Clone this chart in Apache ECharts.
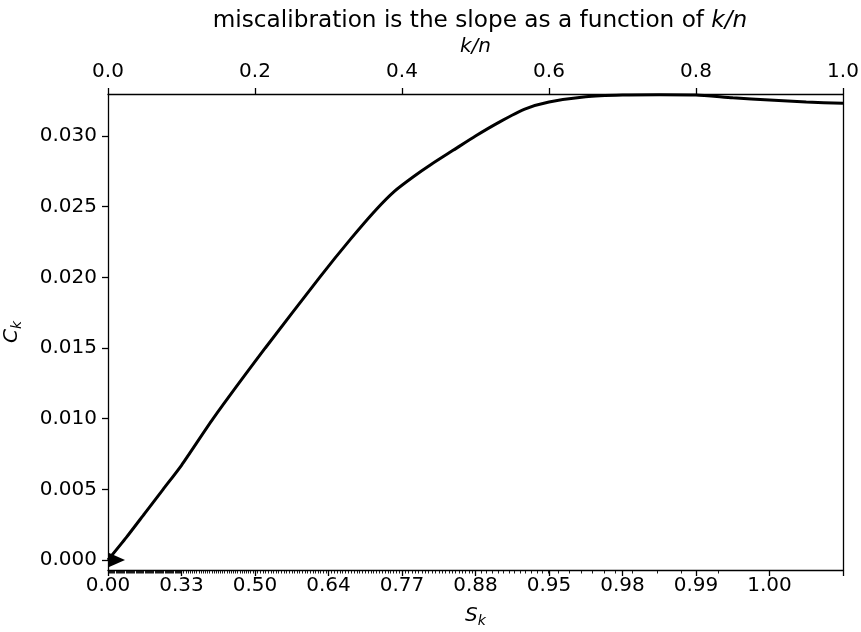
<!DOCTYPE html>
<html>
<head>
<meta charset="utf-8">
<script src="https://cdn.jsdelivr.net/npm/echarts@6/dist/echarts.min.js"></script>
<style>
html,body{margin:0;padding:0;background:#fff;}
#chart{width:861px;height:632px;}
</style>
</head>
<body>
<div id="chart"></div>
<script>
// ---- data ----
const knValues = [0, 0.025, 0.05, 0.075, 0.1, 0.143, 0.214, 0.288, 0.33, 0.365, 0.39, 0.415, 0.44, 0.47, 0.50, 0.533, 0.567, 0.6, 0.65, 0.7, 0.75, 0.8, 0.85, 0.9, 0.95, 1.0];
const ckValues = [0, 0.0016, 0.0033, 0.0050, 0.0067, 0.0100, 0.0150, 0.0200, 0.0227, 0.0248, 0.0261, 0.0271, 0.0280, 0.0290, 0.0300, 0.0310, 0.0319, 0.0324, 0.03278, 0.0329, 0.03292, 0.0329, 0.0327, 0.03255, 0.0324, 0.03232];
const markerKn = [0];
const markerCk = [0];
const skTickLabels = ['0.00', '0.33', '0.50', '0.64', '0.77', '0.88', '0.95', '0.98', '0.99', '1.00'];
const skAtKnGrid = [0, 0.33, 0.50, 0.64, 0.77, 0.88, 0.946, 0.978, 0.993, 0.9995, 1.0];
const knTopTicks = [0, 0.2, 0.4, 0.6, 0.8, 1.0];
const yTicks = [0, 0.005, 0.010, 0.015, 0.020, 0.025, 0.030];

// minor ticks of the S_k axis: every 0.005 in S_k, placed on the k/n scale
const minorTicks = [];
for (let j = 1; j < 200; j++) {
  const s = j * 0.005;
  for (let i = 0; i < skAtKnGrid.length - 1; i++) {
    if (s >= skAtKnGrid[i] && s < skAtKnGrid[i + 1]) {
      minorTicks.push((i + (s - skAtKnGrid[i]) / (skAtKnGrid[i + 1] - skAtKnGrid[i])) / 10);
      break;
    }
  }
}

const FONT = 'DejaVu Sans';
const TICK_FS = 20;
const yMin = -0.00071, yMax = 0.03297;
const lineStyleBlack = {color: '#000', width: 1.3};

const chart = echarts.init(document.getElementById('chart'), null, {renderer: 'canvas'});
chart.setOption({
  animation: false,
  backgroundColor: '#fff',
  title: {
    text: 'miscalibration is the slope as a function of {i|k/n}',
    left: 475, textAlign: 'center', top: 4,
    textStyle: {
      fontFamily: FONT, fontSize: 23.2, fontWeight: 'normal', color: '#000',
      rich: {i: {fontFamily: FONT, fontSize: 23.2, fontStyle: 'italic', color: '#000'}}
    }
  },
  grid: {left: 108, right: 18, top: 94, bottom: 62, containLabel: false, outerBoundsMode: 'none'},
  xAxis: [
    {
      type: 'value', position: 'bottom', min: 0, max: 1, interval: 0.1,
      axisLine: {show: true, onZero: false, lineStyle: lineStyleBlack},
      axisTick: {show: true, length: 6, lineStyle: lineStyleBlack},
      splitLine: {show: false},
      axisLabel: {
        color: '#000', fontFamily: FONT, fontSize: TICK_FS, margin: 6,
        showMaxLabel: true, showMinLabel: true,
        formatter: v => { const i = Math.round(v * 10); return i < skTickLabels.length ? skTickLabels[i] : ''; }
      },
      name: '{i|S}{s|k}', nameLocation: 'middle', nameGap: 34,
      nameTextStyle: {
        fontFamily: FONT, color: '#000',
        rich: {
          i: {fontFamily: FONT, fontSize: 20, fontStyle: 'italic', color: '#000'},
          s: {fontFamily: FONT, fontSize: 14, fontStyle: 'italic', color: '#000', padding: [10, 0, 0, 0]}
        }
      }
    },
    {
      type: 'value', position: 'bottom', min: 0, max: 1,
      axisLine: {show: false, onZero: false},
      axisTick: {show: true, length: 3.5, customValues: minorTicks, lineStyle: {color: '#000', width: 0.9}},
      axisLabel: {show: false},
      splitLine: {show: false}
    },
    {
      type: 'value', position: 'top', min: 0, max: 1, interval: 0.2,
      axisLine: {show: true, onZero: false, lineStyle: lineStyleBlack},
      axisTick: {show: true, length: 6, lineStyle: lineStyleBlack},
      splitLine: {show: false},
      axisLabel: {
        color: '#000', fontFamily: FONT, fontSize: TICK_FS, margin: 12,
        showMaxLabel: true, showMinLabel: true,
        formatter: v => v.toFixed(1)
      },
      name: '{i|k/n}', nameLocation: 'middle', nameGap: 37,
      nameTextStyle: {
        fontFamily: FONT, color: '#000',
        rich: {i: {fontFamily: FONT, fontSize: 20, fontStyle: 'italic', color: '#000'}}
      }
    }
  ],
  yAxis: [
    {
      type: 'value', position: 'left', min: yMin, max: yMax,
      axisLine: {show: true, onZero: false, lineStyle: lineStyleBlack},
      axisTick: {show: true, length: 6, customValues: yTicks, lineStyle: lineStyleBlack},
      axisLabel: {
        color: '#000', fontFamily: FONT, fontSize: TICK_FS, margin: 11,
        customValues: yTicks, formatter: v => v.toFixed(3)
      },
      splitLine: {show: false},
      name: '{i|C}{s|k}', nameLocation: 'middle', nameGap: 84, nameRotate: 90,
      nameTextStyle: {
        fontFamily: FONT, color: '#000',
        rich: {
          i: {fontFamily: FONT, fontSize: 20, fontStyle: 'italic', color: '#000'},
          s: {fontFamily: FONT, fontSize: 14, fontStyle: 'italic', color: '#000', padding: [10, 0, 0, 0]}
        }
      }
    },
    {
      type: 'value', position: 'right', min: yMin, max: yMax,
      axisLine: {show: true, onZero: false, lineStyle: lineStyleBlack},
      axisTick: {show: false}, axisLabel: {show: false}, splitLine: {show: false}
    }
  ],
  series: [
    {
      type: 'line', xAxisIndex: 0, yAxisIndex: 0,
      data: knValues.map((k, i) => [k, ckValues[i]]),
      showSymbol: false, smooth: 0.2,
      lineStyle: {color: '#000', width: 3},
      clip: true
    },
    {
      type: 'scatter', xAxisIndex: 0, yAxisIndex: 0,
      data: markerKn.map((k, i) => [k, markerCk[i]]),
      symbol: 'path://M0,0 L17,7.5 L0,15 Z',
      symbolSize: [17, 15], symbolOffset: [8.5, 0],
      itemStyle: {color: '#000', opacity: 1},
      z: 5
    }
  ]
});
</script>
</body>
</html>
